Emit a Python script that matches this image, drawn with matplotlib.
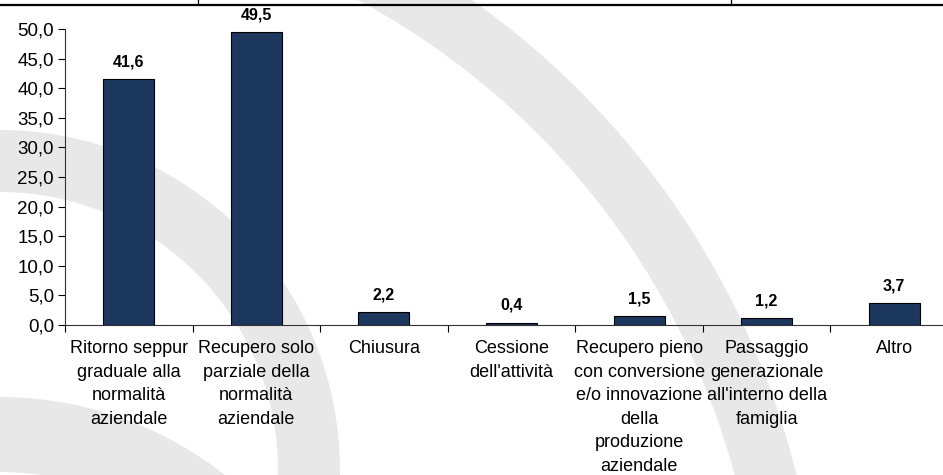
import numpy as np
import matplotlib
matplotlib.use('Agg')
import matplotlib.pyplot as plt
from matplotlib.patches import Wedge
from matplotlib.lines import Line2D
from matplotlib.ticker import FuncFormatter, FixedLocator

categories = ['Ritorno seppur\ngraduale alla\nnormalità\naziendale',
              'Recupero solo\nparziale della\nnormalità\naziendale',
              'Chiusura',
              'Cessione\ndell\'attività',
              'Recupero pieno\ncon conversione\ne/o innovazione\ndella\nproduzione\naziendale',
              'Passaggio\ngenerazionale\nall\'interno della\nfamiglia',
              'Altro']
values = [41.6, 49.5, 2.2, 0.4, 1.5, 1.2, 3.7]
yticks = [0, 5, 10, 15, 20, 25, 30, 35, 40, 45, 50]

plt.rcParams['font.family'] = ['Liberation Sans', 'DejaVu Sans']

W, H = 943, 475
fig = plt.figure(figsize=(W / 100, H / 100), dpi=100)

# faint watermark rings in the background
bg = fig.add_axes([0, 0, 1, 1], zorder=0)
bg.set_xlim(0, W)
bg.set_ylim(H, 0)
bg.axis('off')
grey = '#e8e8e8'
bg.add_patch(Wedge((-4, 674), 825, 0, 360, width=60, color=grey, lw=0))
bg.add_patch(Wedge((0, 470), 340, 0, 360, width=62, color=grey, lw=0))
bg.add_patch(Wedge((0, 760), 363, 0, 360, width=75, color=grey, lw=0))

# header box remains
fig.add_artist(Line2D([0, 1], [1 - 4.5 / H, 1 - 4.5 / H], color='black', lw=1.6))
fig.add_artist(Line2D([198 / W, 198 / W], [1 - 4.5 / H, 1], color='black', lw=0.9))
fig.add_artist(Line2D([731 / W, 731 / W], [1 - 4.5 / H, 1], color='black', lw=0.9))

left, right = 65, 958
y0, y50 = 325, 29
ax = fig.add_axes([left / W, (H - y0) / H, (right - left) / W, (y0 - y50) / H], zorder=1)
ax.set_facecolor('none')

x = np.arange(len(values))
bars = ax.bar(x, values, width=0.4, color='#1c385f', edgecolor='black', linewidth=0.8)

for xi, v in zip(x, values):
    ax.annotate(f'{v:.1f}'.replace('.', ','), (xi, v), xytext=(0, 7), textcoords='offset points',
                ha='center', va='bottom', fontsize=11.5, fontweight='bold')

ax.set_xlim(-0.5, len(values) - 0.5)
ax.set_ylim(0, 50)
ax.set_yticks(yticks)
ax.yaxis.set_major_formatter(FuncFormatter(lambda v, p: f'{v:.1f}'.replace('.', ',')))
ax.tick_params(axis='y', direction='out', length=5, width=0.8, labelsize=13.5, pad=3)

ax.set_xticks(x)
ax.set_xticklabels(categories, fontsize=13, linespacing=1.5)
ax.xaxis.set_minor_locator(FixedLocator(np.arange(-0.5, len(values), 1.0)))
ax.tick_params(axis='x', which='major', length=0, pad=11)
ax.tick_params(axis='x', which='minor', direction='out', length=5, width=0.8)

for s in ['top', 'right']:
    ax.spines[s].set_visible(False)
for s in ['left', 'bottom']:
    ax.spines[s].set_linewidth(0.8)
    ax.spines[s].set_color('#333333')

fig.savefig('out.png', dpi=100)
